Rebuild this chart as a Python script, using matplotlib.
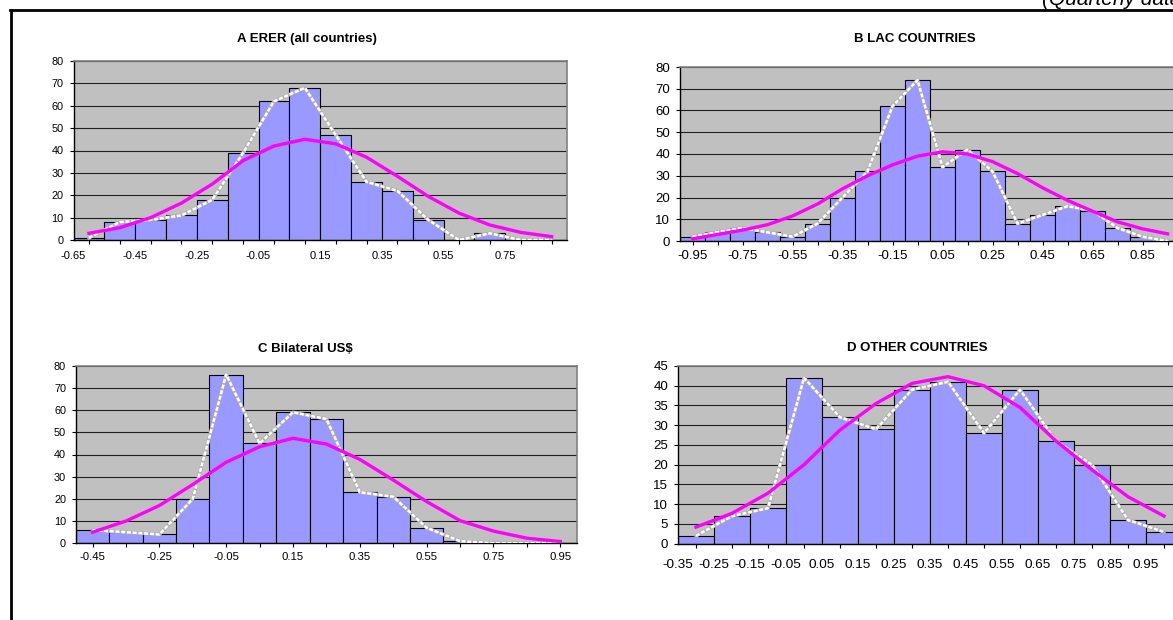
import matplotlib.pyplot as plt
import numpy as np
from matplotlib.lines import Line2D

plt.rcParams["font.family"] = ["Liberation Sans", "DejaVu Sans"]

W, H = 1173, 620

# A: ERER, all countries (bins of 0.1 starting at -0.65)
erer_start = -0.65
erer_counts = [1, 8, 9, 11, 18, 39, 62, 68, 47, 26, 22, 9, 0, 3, 0, 0]
erer_normal = [3, 5.5, 10, 16.5, 25, 35.5, 42, 45, 43, 37, 28.5, 19.5, 12, 6.7, 3.4, 1.5]
erer_labels = ["-0.65", "-0.45", "-0.25", "-0.05", "0.15", "0.35", "0.55", "0.75"]

# B: LAC countries
lac_start = -1.0
lac_counts = [2, 4, 6, 4, 2, 8, 20, 32, 62, 74, 34, 42, 32, 8, 12, 16, 14, 6, 2, 0]
lac_normal = [1, 3, 5, 7.5, 11.5, 17, 24, 30, 35, 39, 41, 40, 36.5, 31, 24.5,
              18.7, 13.7, 8.8, 5.6, 3.3]
lac_labels = ["-0.95", "-0.75", "-0.55", "-0.35", "-0.15", "0.05", "0.25",
              "0.45", "0.65", "0.85"]

# C: bilateral rate against the US$
usd_start = -0.5
usd_counts = [6, 5, 4, 20, 76, 45, 59, 56, 23, 21, 7, 1, 0, 0, 0]
usd_normal = [5, 10, 17, 26.5, 36.5, 43.5, 47.3, 44.7, 37.8, 28.5, 18.8, 10.2, 5.5, 2.3, 0.8]
usd_labels = ["-0.45", "-0.25", "-0.05", "0.15", "0.35", "0.55", "0.75", "0.95"]

# D: other countries
oth_start = -0.35
oth_counts = [2, 7, 9, 42, 32, 29, 39, 41, 28, 39, 26, 20, 6, 3]
oth_normal = [4.2, 7.7, 12.8, 20, 28.8, 35.5, 40.6, 42.3, 40, 34.5, 26, 18.7, 11.9, 7]
oth_labels = ["-0.35", "-0.25", "-0.15", "-0.05", "0.05", "0.15", "0.25", "0.35",
              "0.45", "0.55", "0.65", "0.75", "0.85", "0.95"]

fig = plt.figure(figsize=(W / 100, H / 100), dpi=100)


def panel(box, title, title_xy, start, counts, normal, labels, ymax, ystep,
          xfs, yfs, xpad):
    left, top, right, bottom = box
    ax = fig.add_axes([left / W, 1 - bottom / H, (right - left) / W, (bottom - top) / H])
    n = len(counts)
    edges = start + 0.1 * np.arange(n + 1)
    centers = edges[:-1] + 0.05

    ax.set_facecolor("#c0c0c0")
    ax.bar(centers, counts, width=0.1, color="#9999ff", edgecolor="black",
           linewidth=0.8, zorder=2)
    # frequency polygon: light grey band with a white dotted overlay
    ax.plot(centers, counts, color="#b0b0b0", lw=2.6, zorder=3)
    ax.plot(centers, counts, color="white", lw=1.8, ls=(0, (1.6, 0.7)), zorder=4)
    ax.plot(centers, normal, color="#ff00ff", lw=2.4, zorder=5)

    ax.set_xlim(edges[0], edges[-1])
    ax.set_ylim(0, ymax)
    ax.set_yticks(np.arange(0, ymax + 1, ystep))
    ax.yaxis.grid(True, color="#202020", lw=0.8)
    ax.set_axisbelow(True)

    ax.xaxis.remove_overlapping_locs = False
    ax.set_xticks(centers)
    ax.set_xticks([float(s) for s in labels], labels, minor=True)
    ax.tick_params(axis="x", which="major", length=3, width=0.8, labelbottom=False)
    ax.tick_params(axis="x", which="minor", length=0, pad=xpad, labelsize=xfs)
    ax.tick_params(axis="y", length=3, width=0.8, pad=4, labelsize=yfs)

    for side in ("left", "bottom"):
        ax.spines[side].set_color("black")
        ax.spines[side].set_linewidth(1.0)
    for side in ("top", "right"):
        ax.spines[side].set_color("#808080")
        ax.spines[side].set_linewidth(1.2)

    fig.text(title_xy[0] / W, 1 - title_xy[1] / H, title, ha="center", va="center",
             fontsize=9.5, fontweight="bold")
    return ax


panel((73.5, 61, 567, 240), "A ERER (all countries)", (307, 39),
      erer_start, erer_counts, erer_normal, erer_labels, 80, 10, 8, 7.8, 7.8)
panel((680, 67, 1180, 241), "B LAC COUNTRIES", (915, 39),
      lac_start, lac_counts, lac_normal, lac_labels, 80, 10, 9.5, 9.5, 6.3)
panel((75.8, 365.7, 577, 543.3), "C Bilateral US$", (305, 349),
      usd_start, usd_counts, usd_normal, usd_labels, 80, 10, 8.2, 7.8, 6.2)
panel((678, 366, 1182, 543.7), "D OTHER COUNTRIES", (917, 348),
      oth_start, oth_counts, oth_normal, oth_labels, 45, 5, 9.7, 9.5, 11.2)

# page frame and running header
fig.add_artist(Line2D([10 / W, 1], [1 - 10 / H, 1 - 10 / H], color="black", lw=2))
fig.add_artist(Line2D([11 / W, 11 / W], [1 - 10 / H, 0], color="black", lw=2))
fig.text(1042 / W, 1 - 5 / H, "(Quarterly data)", ha="left", va="baseline",
         fontsize=15, style="italic")

fig.savefig("out.png", dpi=100)
